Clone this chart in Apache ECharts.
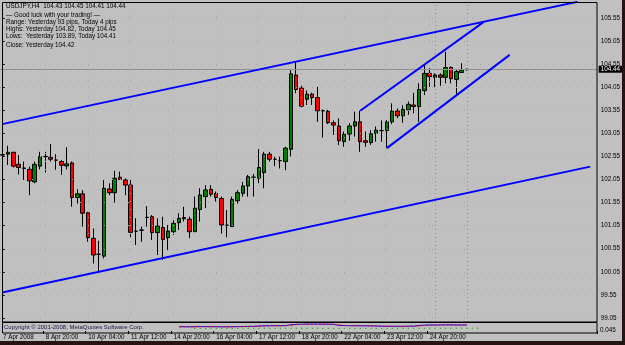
<!DOCTYPE html>
<html><head><meta charset="utf-8">
<script src="https://cdn.jsdelivr.net/npm/echarts@6/dist/echarts.min.js"></script>
<style>html,body{margin:0;padding:0;background:#c0c0c0;}#c{width:625px;height:345px;}</style>
</head><body><div id="c"></div>
<script>
// ---- data (USDJPY H4, first bar = 7 Apr 2008 12:00) ----
const opens  = [102.59,102.60,102.64,102.38,102.30,102.27,102.00,102.34,102.55,102.53,102.47,102.44,102.345,102.41,101.66,101.74,101.33,100.775,100.43,100.39,101.845,101.765,102.10,102.04,101.93,100.93,100.956,101.23,101.245,100.90,101.01,100.79,100.92,101.115,101.225,101.19,100.92,101.40,101.68,101.84,101.75,101.64,101.06,101.03,101.59,101.75,101.91,102.10,102.08,102.20,102.60,102.49,102.46,102.44,102.705,104.315,104.03,103.79,103.90,103.825,103.54,103.53,103.28,103.21,102.87,103.035,103.21,103.30,102.89,102.85,103.05,103.11,103.11,103.30,103.535,103.43,103.56,103.665,103.63,103.975,104.35,104.265,104.315,104.265,104.48,104.22,104.37,104.43];
const closes = [102.58,102.64,102.34,102.31,102.29,102.02,102.38,102.545,102.545,102.49,102.47,102.36,102.39,101.66,101.74,101.32,100.79,100.415,100.43,101.86,101.765,102.076,102.05,101.93,100.905,100.93,100.95,101.23,100.90,101.04,100.75,100.935,101.10,101.21,101.20,100.92,101.43,101.715,101.825,101.73,101.66,101.065,101.06,101.62,101.765,101.91,102.11,102.10,102.31,102.60,102.49,102.49,102.46,102.73,104.34,104.00,103.64,103.90,103.825,103.54,103.54,103.28,103.23,102.89,103.03,103.21,103.30,102.87,102.855,103.04,103.12,103.11,103.30,103.535,103.43,103.57,103.68,103.63,104.00,104.35,104.28,104.315,104.265,104.475,104.235,104.39,104.42,104.44];
const lows   = [102.365,102.365,102.31,102.16,102.04,101.71,101.97,102.27,102.20,102.44,102.26,102.15,102.27,101.46,101.53,101.03,100.70,100.23,100.02,100.34,101.71,101.55,102.04,101.71,100.80,100.63,100.70,101.03,100.74,100.415,100.31,100.52,100.85,100.96,101.14,100.78,100.92,101.14,101.43,101.68,101.57,100.88,100.80,101.03,101.53,101.68,101.68,101.68,101.97,101.86,102.44,102.34,102.29,102.25,102.55,103.92,103.615,103.665,103.665,103.30,102.96,103.25,103.015,102.80,102.76,102.89,102.98,102.65,102.76,102.80,102.87,102.87,102.73,103.25,103.38,103.28,103.45,103.485,103.30,103.88,104.06,104.05,104.08,104.135,104.135,103.89,104.366,104.41];
const highs  = [102.76,102.78,102.65,102.58,102.44,102.33,102.44,102.65,102.65,102.82,102.60,102.47,102.75,102.44,101.84,101.82,101.35,100.99,100.725,102.04,101.97,102.24,102.22,102.076,102.04,101.21,101.03,101.476,101.28,101.21,101.245,101.065,101.17,101.32,101.46,101.245,101.68,101.86,101.93,101.93,101.79,101.68,101.39,101.68,101.82,102.00,102.15,102.17,102.71,102.65,102.65,102.545,102.545,102.76,104.42,104.60,104.08,103.98,103.93,104.06,103.57,103.56,103.33,103.375,103.09,103.27,103.52,103.54,103.09,103.12,103.20,103.33,103.34,103.70,103.59,103.66,103.74,103.93,104.135,104.53,104.46,104.35,104.35,104.82,104.50,104.42,104.57,104.45];

const tickLabels = ['7 Apr 2008','8 Apr 20:00','10 Apr 04:00','11 Apr 12:00','14 Apr 20:00','16 Apr 04:00','17 Apr 12:00','18 Apr 20:00','22 Apr 04:00','23 Apr 12:00','24 Apr 20:00'];
const barsPerLabel = 8;
const priceTicks = [99.05,99.55,100.05,100.55,101.05,101.55,102.05,102.55,103.05,103.55,104.05,104.55,105.05,105.55];
const slotCount = 112;          // bar slots including the empty shift on the right
const bidPrice = 104.44;
const separatorBars = [81, 87]; // day separators visible in the picture

// trend lines: [bar index, price]
const trendUpperLong  = [[-0.1, 103.25], [107.7, 105.90]];
const trendLowerLong  = [[-0.1, 99.60],  [110.1, 102.33]];
const trendUpperShort = [[67, 103.54],   [90.1, 105.46]];
const trendLowerShort = [[72, 102.73],   [95.0, 104.75]];

// sub-window indicator (starts at bar 33)
const indicatorStart = 33;
const macdMain   = [0.043,0.043,0.042,0.043,0.044,0.044,0.043,0.043,0.042,0.042,0.043,0.044,0.045,0.046,0.047,0.050,0.052,0.053,0.053,0.053,0.054,0.062,0.067,0.068,0.069,0.069,0.069,0.068,0.068,0.066,0.056,0.054,0.053,0.053,0.052,0.052,0.051,0.050,0.048,0.047,0.047,0.047,0.047,0.048,0.049,0.055,0.058,0.060,0.060,0.060,0.061,0.061,0.060,0.060,0.060];
const macdSignal = [0.042,0.042,0.042,0.042,0.043,0.043,0.043,0.043,0.043,0.042,0.042,0.043,0.044,0.045,0.046,0.048,0.050,0.052,0.053,0.053,0.053,0.058,0.063,0.066,0.067,0.068,0.069,0.068,0.068,0.067,0.060,0.056,0.054,0.053,0.053,0.052,0.052,0.051,0.049,0.048,0.047,0.047,0.047,0.047,0.048,0.052,0.055,0.058,0.059,0.060,0.060,0.061,0.060,0.060,0.060];
const osma       = [0.026,0.026,0.026,0.027,0.027,0.026,0.026,0.026,0.026,0.027,0.027,0.027,0.027,0.027,0.027,0.027,0.027,0.027,0.028,0.028,0.028,0.027,0.027,0.027,0.026,0.026,0.026,0.026,0.026,0.026,0.026,0.026,0.026,0.026,0.026,0.026,0.026,0.026,0.027,0.027,0.027,0.027,0.027,0.027,0.027,0.027,0.027,0.027,0.027,0.027,0.027,0.027,0.027,0.027];

const headerLines = [
  'USDJPY,H4  104.43 104.45 104.41 104.44',
  '\u2014 Good luck with your trading! \u2014',
  'Range: Yesterday 93 pips, Today 4 pips',
  'Highs: Yesterday 104.82, Today 104.45',
  'Lows:  Yesterday 103.89, Today 104.41',
  'Close: Yesterday 104.42'
];
const copyrightText = 'Copyright \u00a9 2001-2008, MetaQuotes Software Corp.';
const indicatorLabel = '0.045';

// ---- chart ----
const FONT = 'Liberation Sans, Arial, sans-serif';
const chart = echarts.init(document.getElementById('c'), null, {renderer: 'canvas'});
const cats = Array.from({length: slotCount}, (_, i) => String(i));
const candles = opens.map((o, i) => [o, closes[i], lows[i], highs[i]]);
const yMax = 105.8967, yMin = 98.9628;

const gridMarks = [];
priceTicks.forEach(p => gridMarks.push({yAxis: p, lineStyle: {color: '#a8a8a8', type: [1, 7], width: 1}}));
for (let k = 0; k < tickLabels.length; k++) gridMarks.push({xAxis: String(k * barsPerLabel), lineStyle: {color: '#a8a8a8', type: [1, 7], width: 1}});
separatorBars.forEach(b => gridMarks.push({xAxis: String(b), lineStyle: {color: '#8c8c8c', type: [1, 3], width: 1}}));

const tl = (name, d) => ({
  name, type: 'line', xAxisIndex: 1, yAxisIndex: 0, data: d, symbol: 'none', z: 5,
  lineStyle: {color: '#0000ff', width: 2}, animation: false, silent: true, clip: true
});

const headerGraphics = headerLines.map((t, i) => ({
  type: 'text', x: 6, y: [6, 15, 22.3, 29.3, 36.7, 45][i],
  style: {text: t, fill: '#000', font: '6.3px ' + FONT, textVerticalAlign: 'middle'}, z: 100
}));

chart.setOption({
  animation: false,
  backgroundColor: '#c0c0c0',
  grid: [
    {left: 0, right: 27.3, top: 2, bottom: 23},
    {left: 0, right: 27.3, top: 322, height: 11}
  ],
  xAxis: [
    {type: 'category', gridIndex: 0, data: cats, boundaryGap: true, axisLine: {show: false}, axisTick: {show: false}, axisLabel: {show: false}, splitLine: {show: false}},
    {type: 'value', gridIndex: 0, min: -0.5, max: slotCount - 0.5, show: false},
    {type: 'category', gridIndex: 1, data: cats, boundaryGap: true, axisLine: {show: false},
      axisTick: {show: true, length: 3, lineStyle: {color: '#000'}, interval: (idx) => idx % barsPerLabel === 0 && idx / barsPerLabel < tickLabels.length && idx > 0},
      axisLabel: {show: true, interval: (idx) => idx % barsPerLabel === 0 && idx / barsPerLabel < tickLabels.length,
        formatter: (v, idx) => tickLabels[idx / barsPerLabel] || '', align: 'left', margin: 1.5, fontSize: 6.3, color: '#000', fontFamily: FONT, hideOverlap: false},
      splitLine: {show: false}}
  ],
  yAxis: [
    {type: 'value', gridIndex: 0, position: 'right', min: yMin, max: yMax, scale: true,
      axisLine: {show: false},
      axisTick: {show: true, length: 2, lineStyle: {color: '#000'}, customValues: priceTicks},
      axisLabel: {show: true, customValues: priceTicks, formatter: v => Number(v).toFixed(2), fontSize: 6.3, color: '#000', fontFamily: FONT, margin: 3},
      splitLine: {show: false}},
    {type: 'value', gridIndex: 1, min: -0.02, max: 0.09, show: false}
  ],
  series: [
    {name: 'grid', type: 'line', xAxisIndex: 0, yAxisIndex: 0, data: [], z: 1, silent: true,
      markLine: {silent: true, symbol: 'none', animation: false, label: {show: false}, data: gridMarks}},
    {name: 'bid', type: 'line', xAxisIndex: 0, yAxisIndex: 0, data: [], z: 1, silent: true,
      markLine: {silent: true, symbol: 'none', animation: false,
        data: [{yAxis: bidPrice, lineStyle: {color: '#8f8f8f', type: 'solid', width: 1},
          label: {show: true, position: 'end', distance: 1, formatter: bidPrice.toFixed(2), color: '#fff', backgroundColor: '#000', padding: [1, 2, 0, 2], fontSize: 6.3, fontFamily: FONT}}]}},
    {name: 'USDJPY', type: 'candlestick', xAxisIndex: 0, yAxisIndex: 0, data: candles, barWidth: 4, z: 3,
      itemStyle: {color: '#008000', color0: '#ff0000', borderColor: '#000', borderColor0: '#000', borderColorDoji: '#000', borderWidth: 1}},
    tl('upperLong', trendUpperLong),
    tl('lowerLong', trendLowerLong),
    tl('upperShort', trendUpperShort),
    tl('lowerShort', trendLowerShort),
    {name: 'main', type: 'line', xAxisIndex: 2, yAxisIndex: 1, data: macdMain.map((v, i) => [String(indicatorStart + i), v]), symbol: 'none', lineStyle: {color: '#0000ff', width: 1}, z: 4},
    {name: 'signal', type: 'line', xAxisIndex: 2, yAxisIndex: 1, data: macdSignal.map((v, i) => [String(indicatorStart + i), v]), symbol: 'none', lineStyle: {color: '#ff0000', width: 1, type: [2, 2]}, z: 4},
    {name: 'osma', type: 'scatter', xAxisIndex: 2, yAxisIndex: 1, data: osma.map((v, i) => [String(indicatorStart + 3 + i), v]), symbolSize: 1.4, itemStyle: {color: '#00a000'}, z: 4}
  ],
  graphic: [
    {type: 'rect', shape: {x: 2.5, y: 2.5, width: 594.5, height: 319.5}, style: {fill: null, stroke: '#000', lineWidth: 1}, z: 50, silent: true},
    {type: 'rect', shape: {x: 2.5, y: 322.5, width: 594.5, height: 10.5}, style: {fill: null, stroke: '#000', lineWidth: 1}, z: 50, silent: true},
    {type: 'rect', shape: {x: 0, y: 341, width: 625, height: 4}, style: {fill: '#241414'}, z: 60, silent: true},
    {type: 'rect', shape: {x: 622, y: 0, width: 3, height: 345}, style: {fill: '#241414'}, z: 60, silent: true},
    {type: 'text', x: 4, y: 327.5, style: {text: copyrightText, fill: '#1a1a4a', font: '6px ' + FONT, textVerticalAlign: 'middle'}, z: 55},
    {type: 'text', x: 600, y: 330, style: {text: indicatorLabel, fill: '#000', font: '6.3px ' + FONT, textVerticalAlign: 'middle'}, z: 55}
  ].concat(headerGraphics)
});
</script></body></html>
